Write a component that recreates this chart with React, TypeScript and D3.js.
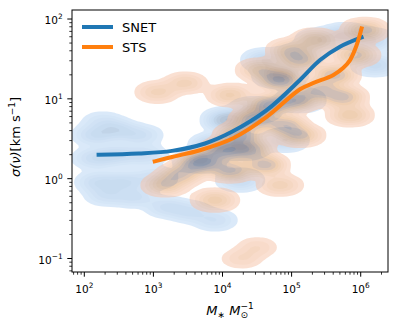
import React from "react";
import * as d3 from "d3";

// median relations
const snetMass = [161, 612, 1860, 5580, 13700, 43600, 132000, 258000, 501000, 1030000];
const snetSigma = [2.0, 2.07, 2.23, 2.76, 3.86, 7.21, 17.2, 30.6, 45.0, 58.9];
const stsMass = [1045, 1860, 4720, 14200, 43600, 132000, 204000, 398000, 556000, 701000, 875000, 1030000];
const stsSigma = [1.65, 1.87, 2.27, 3.21, 5.94, 13.2, 15.7, 19.8, 24.3, 30.6, 47.2, 76.4];

// density clumps: [log10 M, log10 sigma, weight]
const snetClumps = [
  [2.16, 0.546, 0.6], [2.48, 0.609, 0.6], [2.806, 0.546, 0.5], [2.27, 0.709, 0.35],
  [2.16, 0.258, 0.6], [2.48, 0.296, 0.6], [2.878, 0.296, 0.5],
  [2.2, -0.043, 0.6], [2.589, -0.043, 0.6], [3.023, 0.007, 0.5],
  [2.33, -0.205, 0.5], [2.734, -0.23, 0.5],
  [3.197, -0.356, 0.5], [3.53, -0.418, 0.5], [3.891, -0.519, 0.45],
  [3.674, 0.233, 1.2], [3.891, 0.421, 1.3], [4.079, 0.734, 1.6], [4.296, 0.396, 1.6],
  [4.47, 0.86, 1.4], [4.832, 1.298, 1.8], [4.615, 1.486, 0.8], [5.122, 1.549, 0.8],
  [5.411, 1.737, 0.8], [5.773, 1.799, 1], [6.135, 1.737, 0.9], [6.207, 1.423, 0.7],
  [5.122, 0.985, 1], [4.904, 0.484, 0.8], [4.253, -0.018, 0.7],
];
const stsClumps = [
  [3.054, 1.085, 0.55], [3.459, 1.198, 0.55],
  [4.28, -1.0, 0.32], [4.5, -0.86, 0.32],
  [3.168, -0.08, 0.8], [3.385, 0.045, 1], [3.602, 0.171, 1], [3.891, -0.268, 0.8],
  [3.746, 0.233, 1.2], [4.036, 0.358, 1.5], [4.253, 0.546, 1.5], [4.108, 0.108, 1.2],
  [4.398, 0.358, 1.2], [4.615, 0.171, 1.2], [4.47, 0.734, 1.5], [4.687, 0.922, 1.5],
  [4.832, 1.236, 1.5], [4.904, 0.672, 1.2], [5.049, 0.985, 1.3], [5.122, 0.546, 1],
  [5.122, 1.486, 1], [5.338, 1.737, 0.8], [5.411, 1.11, 1.2], [5.628, 1.298, 1.2],
  [5.744, 1.022, 1.2], [5.845, 0.797, 0.8], [5.918, 1.549, 1], [6.062, 1.862, 1],
  [4.108, 1.048, 0.7], [4.543, 1.361, 0.8], [4.977, 1.612, 0.8], [4.832, -0.08, 0.6],
];

const xTicks = [1e2, 1e3, 1e4, 1e5, 1e6];
const xTickExps = ["2", "3", "4", "5", "6"];
const yTicks = [1e-1, 1e0, 1e1, 1e2];
const yTickExps = ["\u22121", "0", "1", "2"];

const seriesNames = ["SNET", "STS"];
const seriesColors = ["#1f77b4", "#ff7f0e"];

const left = 72;
const top = 10;
const plotW = 316;
const plotH = 262;
const font = "DejaVu Sans, sans-serif";

const x = d3.scaleLog().domain([10 ** 1.822, 10 ** 6.395]).range([0, plotW]);
const y = d3.scaleLog().domain([10 ** -1.169, 10 ** 2.113]).range([plotH, 0]);

const minorTicks = (scale) => {
  const [a, b] = scale.domain().slice().sort((p, q) => p - q);
  const out = [];
  for (let k = -3; k <= 7; k++) {
    for (let m = 2; m <= 9; m++) {
      const v = m * 10 ** k;
      if (v >= a && v <= b) out.push(v);
    }
  }
  return out;
};

const Density = ({ clumps, stops, opacity }) => {
  const ax = 2.0;
  const contour = d3
    .contourDensity()
    .x((d) => x(10 ** d[0]) / ax)
    .y((d) => y(10 ** d[1]))
    .weight((d) => d[2])
    .size([plotW / ax, plotH])
    .cellSize(2)
    .bandwidth(5)
    .contours(clumps);
  const levels = [0.04, 0.1, 0.17, 0.25, 0.34, 0.44, 0.56, 0.7, 0.85];
  const color = d3.piecewise(d3.interpolateLab, stops);
  const path = d3.geoPath();
  return (
    <g opacity={opacity} transform={`scale(${ax},1)`}>
      {levels.map((l, i) => (
        <path
          key={i}
          d={path(contour(l * contour.max))}
          fill={color(i / (levels.length - 1))}
        />
      ))}
    </g>
  );
};

const Curve = ({ mass, sigma, color }) => {
  const line = d3
    .line()
    .x((i) => x(mass[i]))
    .y((i) => y(sigma[i]))
    .curve(d3.curveCatmullRom);
  return (
    <path
      d={line(d3.range(mass.length))}
      fill="none"
      stroke={color}
      strokeWidth={4}
      strokeLinecap="square"
    />
  );
};

export default function App() {
  return (
    <svg
      width={398}
      height={328}
      style={{ position: "absolute", left: 0, top: 0, background: "#fff" }}
      fontFamily={font}
    >
      <defs>
        <clipPath id="plot">
          <rect x={0} y={0} width={plotW} height={plotH} />
        </clipPath>
      </defs>
      <g transform={`translate(${left},${top})`}>
        <g clipPath="url(#plot)">
          <Density clumps={snetClumps} stops={["#aed0f3", "#86b2e0", "#4f6f96"]} opacity={0.45} />
          <Density clumps={stsClumps} stops={["#f7c2a6", "#e0a068", "#5e5f72"]} opacity={0.5} />
          <Curve mass={snetMass} sigma={snetSigma} color={seriesColors[0]} />
          <Curve mass={stsMass} sigma={stsSigma} color={seriesColors[1]} />
        </g>

        {/* legend */}
        {seriesNames.map((name, i) => (
          <g key={name} transform={`translate(10,${17 + i * 20})`}>
            <line x1={0} x2={31} y1={0} y2={0} stroke={seriesColors[i]} strokeWidth={4} />
            <text x={40} y={5} fontSize={13}>
              {name}
            </text>
          </g>
        ))}

        {/* x axis */}
        <g transform={`translate(0,${plotH})`}>
          {minorTicks(x).map((v, i) => (
            <line key={i} x1={x(v)} x2={x(v)} y1={0} y2={2.7} stroke="#000" strokeWidth={0.8} />
          ))}
          {xTicks.map((v, i) => (
            <g key={i} transform={`translate(${x(v)},0)`}>
              <line y1={0} y2={4.7} stroke="#000" strokeWidth={1} />
              <text y={21} textAnchor="middle" fontSize={10.5}>
                10
                <tspan fontSize={7.4} dy={-5}>
                  {xTickExps[i]}
                </tspan>
              </text>
            </g>
          ))}
        </g>

        {/* y axis */}
        {minorTicks(y).map((v, i) => (
          <line key={i} x1={-2.7} x2={0} y1={y(v)} y2={y(v)} stroke="#000" strokeWidth={0.8} />
        ))}
        {yTicks.map((v, i) => (
          <g key={i} transform={`translate(0,${y(v)})`}>
            <line x1={-4.7} x2={0} stroke="#000" strokeWidth={1} />
            <text x={-9.4} y={5} textAnchor="end" fontSize={10.5}>
              10
              <tspan fontSize={7.4} dy={-5}>
                {yTickExps[i]}
              </tspan>
            </text>
          </g>
        ))}

        <rect x={0} y={0} width={plotW} height={plotH} fill="none" stroke="#000" strokeWidth={1} />
      </g>

      {/* axis labels */}
      <text x={230} y={315} textAnchor="middle" fontSize={13}>
        <tspan fontStyle="italic">M</tspan>
        <tspan fontSize={9} dy={3}>{"\u2217"}</tspan>
        <tspan dy={-3}>{" "}</tspan>
        <tspan fontStyle="italic">M</tspan>
        <tspan fontSize={9} dy={3}>{"\u2299"}</tspan>
        <tspan fontSize={9} dy={-9} dx={-7.5}>{"\u22121"}</tspan>
      </text>
      <text
        transform="translate(19.5,137) rotate(-90)"
        textAnchor="middle"
        fontSize={13}
      >
        <tspan fontStyle="italic">{"\u03c3(\u03bd)"}</tspan>
        {"[km s"}
        <tspan fontSize={9} dy={-5}>{"\u22121"}</tspan>
        <tspan dy={5}>]</tspan>
      </text>
    </svg>
  );
}
